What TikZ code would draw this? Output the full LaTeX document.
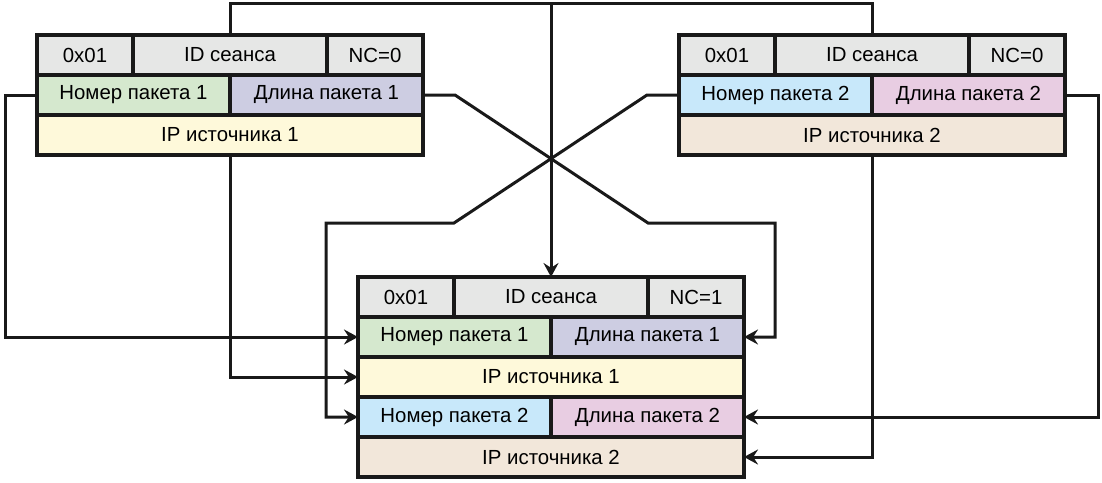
\documentclass[tikz,border=0pt]{standalone}
\usepackage{fontspec}
\setmainfont{Liberation Sans}
\usepackage{xcolor}
\usepackage{tikz}
\usetikzlibrary{arrows.meta, positioning}
\definecolor{hdrgray}{RGB}{230, 231, 230}
\definecolor{numgreen}{RGB}{213, 232, 206}
\definecolor{lenviolet}{RGB}{205, 205, 226}
\definecolor{ipyellow}{RGB}{254, 249, 218}
\definecolor{numblue}{RGB}{200, 232, 250}
\definecolor{lenpink}{RGB}{232, 205, 226}
\definecolor{ipbeige}{RGB}{242, 231, 218}

\begin{document}
\begin{tikzpicture}[
    x=0.5pt, y=-0.5pt,
    field/.style={
        rectangle,
        draw=black!90,
        line width=1.6pt,
        outer sep=0pt,
        inner sep=0pt,
        minimum height=20pt,
        font=\fontsize{10.2}{12}\selectfont,
        align=center
    },
    narrow/.style={field, minimum width=48pt},
    wide/.style={field, minimum width=97pt},
    half/.style={field, minimum width=96.5pt},
    full/.style={field, minimum width=193pt},
    link/.style={line width=1.5pt, draw=black!90},
    feed/.style={->, >={Stealth[length=7pt, width=7.5pt, inset=2.4pt]}, line width=1.5pt, draw=black!90}
]
    \useasboundingbox (0,0) rectangle (1102,482);

    % Left packet (NC=0, source 1)
    \node[narrow, fill=hdrgray, anchor=north west] (lhdr) at (37,35) {0x01};
    \node[wide, fill=hdrgray, right=0pt of lhdr] (lsid) {ID сеанса};
    \node[narrow, fill=hdrgray, right=0pt of lsid] (lnc) {NC=0};
    \node[half, fill=numgreen, anchor=north west] (lnum) at (lhdr.south west) {Номер пакета 1};
    \node[half, fill=lenviolet, right=0pt of lnum] (llen) {Длина пакета 1};
    \node[full, fill=ipyellow, anchor=north west] (lip) at (lnum.south west) {IP источника 1};

    % Right packet (NC=0, source 2)
    \node[narrow, fill=hdrgray, anchor=north west] (rhdr) at (679,35) {0x01};
    \node[wide, fill=hdrgray, right=0pt of rhdr] (rsid) {ID сеанса};
    \node[narrow, fill=hdrgray, right=0pt of rsid] (rnc) {NC=0};
    \node[half, fill=numblue, anchor=north west] (rnum) at (rhdr.south west) {Номер пакета 2};
    \node[half, fill=lenpink, right=0pt of rnum] (rlen) {Длина пакета 2};
    \node[full, fill=ipbeige, anchor=north west] (rip) at (rnum.south west) {IP источника 2};

    % Merged packet (NC=1)
    \node[narrow, fill=hdrgray, anchor=north west] (bhdr) at (358,277) {0x01};
    \node[wide, fill=hdrgray, right=0pt of bhdr] (bsid) {ID сеанса};
    \node[narrow, fill=hdrgray, right=0pt of bsid] (bnc) {NC=1};
    \node[half, fill=numgreen, anchor=north west] (bnum1) at (bhdr.south west) {Номер пакета 1};
    \node[half, fill=lenviolet, right=0pt of bnum1] (blen1) {Длина пакета 1};
    \node[full, fill=ipyellow, anchor=north west] (bip1) at (bnum1.south west) {IP источника 1};
    \node[half, fill=numblue, anchor=north west] (bnum2) at (bip1.south west) {Номер пакета 2};
    \node[half, fill=lenpink, right=0pt of bnum2] (blen2) {Длина пакета 2};
    \node[full, fill=ipbeige, anchor=north west] (bip2) at (bnum2.south west) {IP источника 2};

    % Session ID line
    \coordinate (topline) at (0,3);
    \draw[link] (lsid.north) |- (topline -| rsid.north) -- (rsid.north);
    \draw[feed] (bsid.north |- topline) -- (bsid.north);

    % Fields of packet 1
    \draw[feed] (lnum.west) -- ++(-32,0) |- (bnum1.west);
    \draw[feed] (lip.south) |- (bip1.west);
    \draw[feed] (llen.east) -- ++(32,0) -- ++(193,128) -- ++(127,0) |- (blen1.east);

    % Fields of packet 2
    \draw[feed] (rnum.west) -- ++(-32,0) -- ++(-193,128) -- ++(-128,0) |- (bnum2.west);
    \draw[feed] (rlen.east) -- ++(33,0) |- (blen2.east);
    \draw[feed] (rip.south) |- (bip2.east);
\end{tikzpicture}
\end{document}
